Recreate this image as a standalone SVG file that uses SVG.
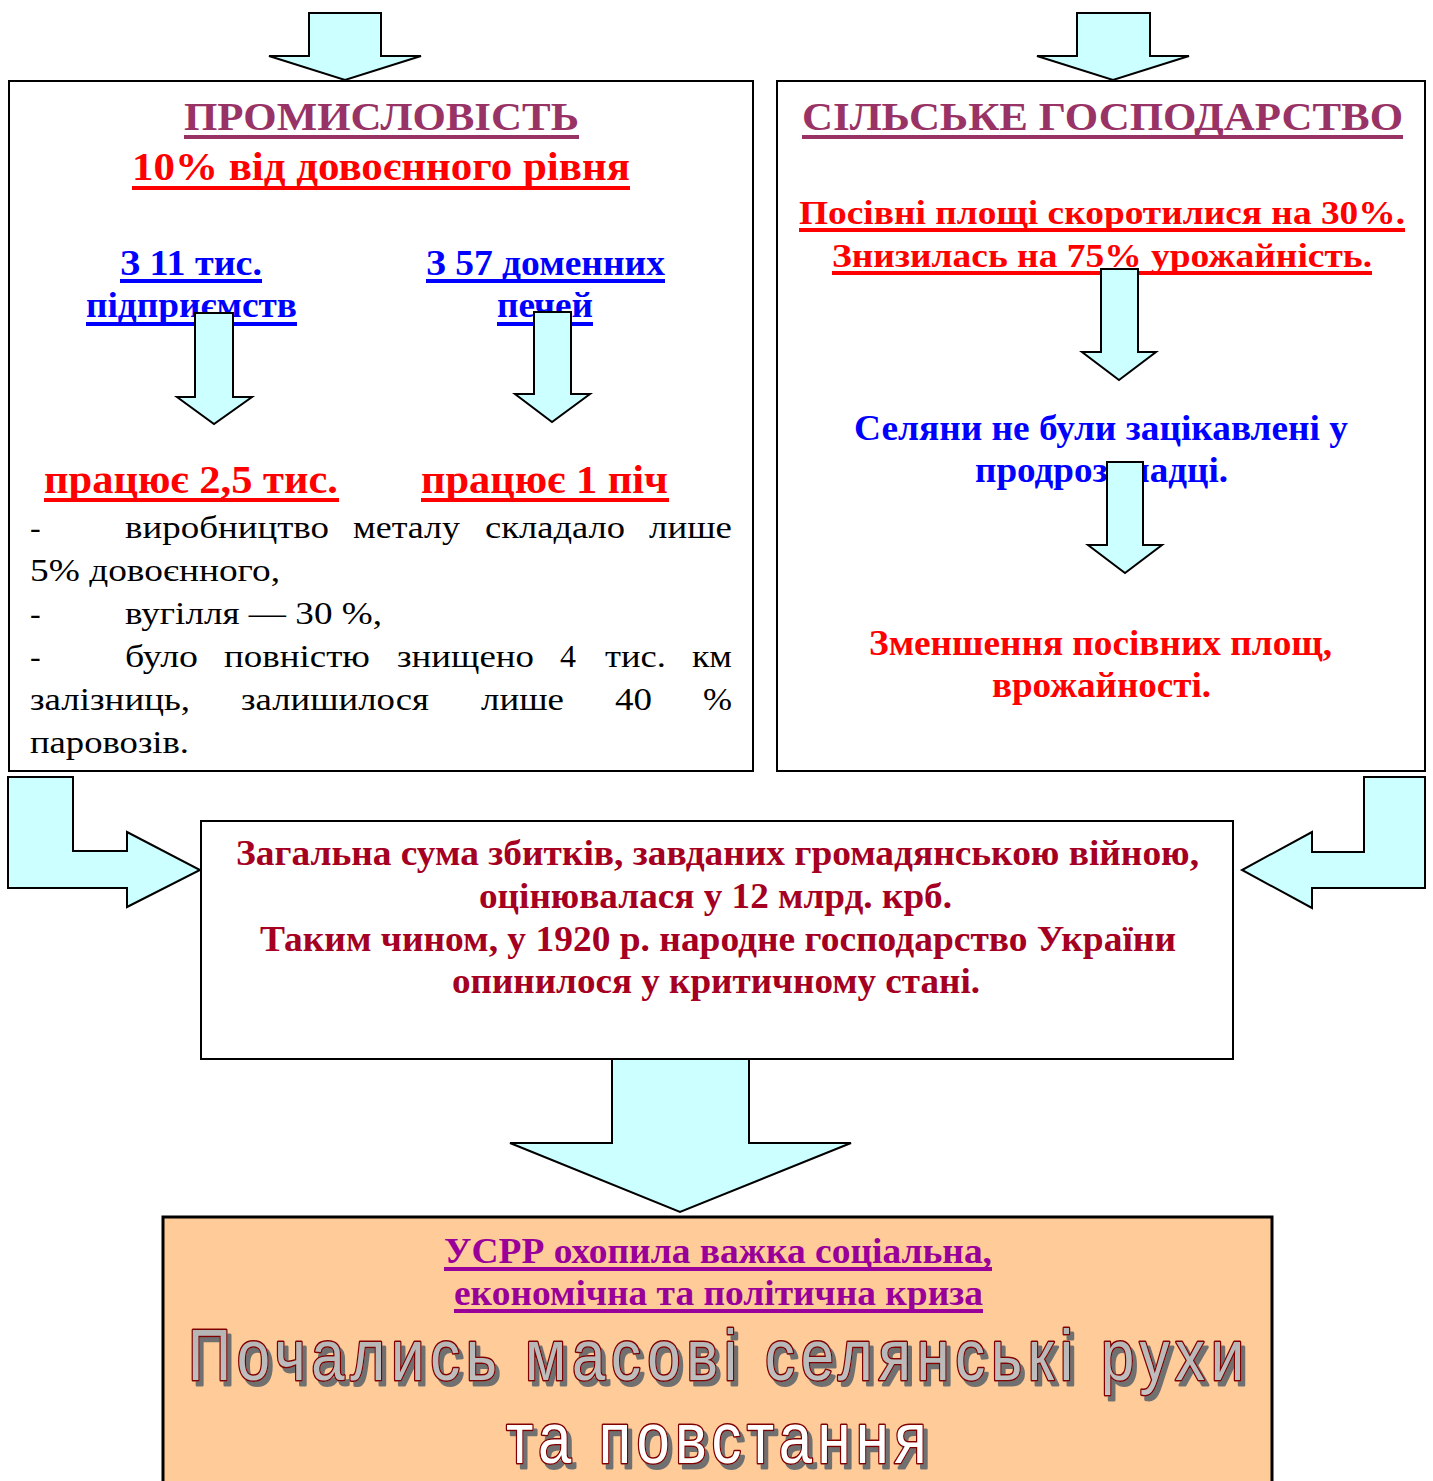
<svg xmlns="http://www.w3.org/2000/svg" width="1433" height="1481" viewBox="0 0 1433 1481">
<style>
.box{fill:#fff;stroke:#000;stroke-width:2}
.arrow{fill:#CCFFFF;stroke:#000;stroke-width:2;stroke-linejoin:miter}
.sb{font-family:"Liberation Serif","Times New Roman",serif;font-weight:bold}
.sr{font-family:"Liberation Serif","Times New Roman",serif;font-weight:normal;font-size:32px;fill:#000}
.ttl{font-size:41px;fill:#993366}
.red{fill:#FF0000}
.blue{fill:#0000FF}
.crim{fill:#A50021}
.purp{fill:#990099}
.ulP{stroke:#993366;stroke-width:4}
.ulR{stroke:#FF0000;stroke-width:4}
.ulB{stroke:#0000FF;stroke-width:4}
.ulV{stroke:#990099;stroke-width:4}
.wa{font-family:"Liberation Sans",Arial,sans-serif;font-size:73px;font-weight:normal;fill:url(#waGrad);stroke:#800000;stroke-width:3;paint-order:stroke;stroke-linejoin:round}
</style>
<defs>
<linearGradient id="waGrad" gradientUnits="userSpaceOnUse" x1="0" y1="1325" x2="0" y2="1468">
<stop offset="0" stop-color="#b4b4b4"/>
<stop offset="0.45" stop-color="#c0c0c0"/>
<stop offset="0.72" stop-color="#ffffff"/>
<stop offset="1" stop-color="#ffffff"/>
</linearGradient>
<filter id="waShadow" x="-5%" y="-20%" width="115%" height="150%">
<feOffset in="SourceAlpha" dx="4" dy="5" result="off"/>
<feFlood flood-color="#707070"/>
<feComposite in2="off" operator="in" result="sh"/>
<feMerge><feMergeNode in="sh"/><feMergeNode in="SourceGraphic"/></feMerge>
</filter>
</defs>
<rect width="1433" height="1481" fill="#fff"/>

<g id="industry">
<rect class="box" x="9" y="81" width="744" height="690"/>
<text class="sb ttl" x="184" y="130" textLength="395" lengthAdjust="spacingAndGlyphs">ПРОМИСЛОВІСТЬ</text>
<line class="ulP" x1="184" y1="137" x2="579" y2="137"/>
<text class="sb red" font-size="41" x="132" y="180" textLength="498" lengthAdjust="spacingAndGlyphs">10% від довоєнного рівня</text>
<line class="ulR" x1="132" y1="188" x2="630" y2="188"/>
<text class="sb blue" font-size="36" x="120" y="275" textLength="142" lengthAdjust="spacingAndGlyphs">З 11 тис.</text>
<line class="ulB" x1="120" y1="281" x2="262" y2="281"/>
<text class="sb blue" font-size="36" x="86" y="317" textLength="211" lengthAdjust="spacingAndGlyphs">підприємств</text>
<line class="ulB" x1="86" y1="324" x2="297" y2="324"/>
<text class="sb blue" font-size="36" x="426" y="275" textLength="239" lengthAdjust="spacingAndGlyphs">З 57 доменних</text>
<line class="ulB" x1="426" y1="281" x2="665" y2="281"/>
<text class="sb blue" font-size="36" x="497" y="317" textLength="96" lengthAdjust="spacingAndGlyphs">печей</text>
<line class="ulB" x1="497" y1="324" x2="593" y2="324"/>
<text class="sb red" font-size="39" x="44" y="493" textLength="294" lengthAdjust="spacingAndGlyphs">працює 2,5 тис.</text>
<line class="ulR" x1="44" y1="500" x2="339" y2="500"/>
<text class="sb red" font-size="39" x="421" y="493" textLength="247" lengthAdjust="spacingAndGlyphs">працює 1 піч</text>
<line class="ulR" x1="421" y1="500" x2="669" y2="500"/>
<text class="sr" x="30" y="538">-</text>
<text class="sr" x="125" y="538" textLength="204" lengthAdjust="spacingAndGlyphs">виробництво</text>
<text class="sr" x="353" y="538" textLength="107" lengthAdjust="spacingAndGlyphs">металу</text>
<text class="sr" x="485" y="538" textLength="140" lengthAdjust="spacingAndGlyphs">складало</text>
<text class="sr" x="649" y="538" textLength="83" lengthAdjust="spacingAndGlyphs">лише</text>
<text class="sr" x="30" y="581" textLength="250" lengthAdjust="spacingAndGlyphs">5% довоєнного,</text>
<text class="sr" x="30" y="624">-</text>
<text class="sr" x="125" y="624" textLength="257" lengthAdjust="spacingAndGlyphs">вугілля — 30 %,</text>
<text class="sr" x="30" y="667">-</text>
<text class="sr" x="125" y="667" textLength="73" lengthAdjust="spacingAndGlyphs">було</text>
<text class="sr" x="224" y="667" textLength="146" lengthAdjust="spacingAndGlyphs">повністю</text>
<text class="sr" x="397" y="667" textLength="137" lengthAdjust="spacingAndGlyphs">знищено</text>
<text class="sr" x="560" y="667">4</text>
<text class="sr" x="605" y="667" textLength="61" lengthAdjust="spacingAndGlyphs">тис.</text>
<text class="sr" x="692" y="667" textLength="40" lengthAdjust="spacingAndGlyphs">км</text>
<text class="sr" x="30" y="710" textLength="160" lengthAdjust="spacingAndGlyphs">залізниць,</text>
<text class="sr" x="241" y="710" textLength="188" lengthAdjust="spacingAndGlyphs">залишилося</text>
<text class="sr" x="481" y="710" textLength="83" lengthAdjust="spacingAndGlyphs">лише</text>
<text class="sr" x="615" y="710" textLength="37" lengthAdjust="spacingAndGlyphs">40</text>
<text class="sr" x="703" y="710" textLength="29" lengthAdjust="spacingAndGlyphs">%</text>
<text class="sr" x="30" y="753" textLength="159" lengthAdjust="spacingAndGlyphs">паровозів.</text>
</g>

<g id="agriculture">
<rect class="box" x="777" y="81" width="648" height="690"/>
<text class="sb ttl" x="802" y="130" textLength="601" lengthAdjust="spacingAndGlyphs">СІЛЬСЬКЕ ГОСПОДАРСТВО</text>
<line class="ulP" x1="802" y1="137" x2="1403" y2="137"/>
<text class="sb red" font-size="34" x="799" y="224" textLength="606" lengthAdjust="spacingAndGlyphs">Посівні площі скоротилися на 30%.</text>
<line class="ulR" x1="799" y1="230" x2="1405" y2="230"/>
<text class="sb red" font-size="34" x="832" y="267" textLength="540" lengthAdjust="spacingAndGlyphs">Знизилась на 75% урожайність.</text>
<line class="ulR" x1="832" y1="273" x2="1372" y2="273"/>
<text class="sb blue" font-size="35" x="854" y="440" textLength="494" lengthAdjust="spacingAndGlyphs">Селяни не були зацікавлені у</text>
<text class="sb blue" font-size="35" x="975" y="482" textLength="253" lengthAdjust="spacingAndGlyphs">продрозкладці.</text>
<text class="sb red" font-size="35" x="869" y="655" textLength="463" lengthAdjust="spacingAndGlyphs">Зменшення посівних площ,</text>
<text class="sb red" font-size="35" x="992" y="697" textLength="219" lengthAdjust="spacingAndGlyphs">врожайності.</text>
</g>

<g id="losses">
<rect class="box" x="201" y="821" width="1032" height="238"/>
<text class="sb crim" font-size="35" x="236" y="865" textLength="963" lengthAdjust="spacingAndGlyphs">Загальна сума збитків, завданих громадянською війною,</text>
<text class="sb crim" font-size="35" x="479" y="908" textLength="473" lengthAdjust="spacingAndGlyphs">оцінювалася у 12 млрд. крб.</text>
<text class="sb crim" font-size="35" x="260" y="951" textLength="916" lengthAdjust="spacingAndGlyphs">Таким чином, у 1920 р. народне господарство України</text>
<text class="sb crim" font-size="35" x="452" y="993" textLength="528" lengthAdjust="spacingAndGlyphs">опинилося у критичному стані.</text>
</g>

<g id="crisis">
<rect x="163" y="1217" width="1109" height="270" fill="#FFCC99" stroke="#000" stroke-width="3"/>
<text class="sb purp" font-size="35" x="444" y="1263" textLength="548" lengthAdjust="spacingAndGlyphs">УСРР охопила важка соціальна,</text>
<line class="ulV" x1="444" y1="1269" x2="992" y2="1269"/>
<text class="sb purp" font-size="35" x="454" y="1305" textLength="529" lengthAdjust="spacingAndGlyphs">економічна та політична криза</text>
<line class="ulV" x1="454" y1="1311" x2="983" y2="1311"/>
<g filter="url(#waShadow)">
<text class="wa" transform="translate(188,0) scale(0.82,1)" x="0" y="1380" textLength="1288" lengthAdjust="spacing">Почались масові селянські рухи</text>
<text class="wa" transform="translate(506,0) scale(0.82,1)" x="0" y="1463" textLength="513" lengthAdjust="spacing">та повстання</text>
</g>
</g>

<g id="connectors">
<polygon class="arrow" points="309,13 381,13 381,56 421,56 345,80 269,56 309,56"/>
<polygon class="arrow" points="1077,13 1150,13 1150,56 1189,56 1113,80 1037,56 1077,56"/>
<polygon class="arrow" points="195,313 233,313 233,397 252,397 214,424 177,397 195,397"/>
<polygon class="arrow" points="534,312 571,312 571,394 590,394 552,422 515,394 534,394"/>
<polygon class="arrow" points="1101,269 1138,269 1138,352 1156,352 1119,380 1082,352 1101,352"/>
<polygon class="arrow" points="1107,462 1143,462 1143,545 1162,545 1125,573 1088,545 1107,545"/>
<polygon class="arrow" points="8,777 73,777 73,851 127,851 127,832 200,870 127,907 127,888 8,888"/>
<polygon class="arrow" points="1425,777 1364,777 1364,852 1312,852 1312,832 1242,870 1312,908 1312,888 1425,888"/>
<polygon class="arrow" points="612,1059 749,1059 749,1143 851,1143 680,1212 510,1143 612,1143"/>
</g>
</svg>
